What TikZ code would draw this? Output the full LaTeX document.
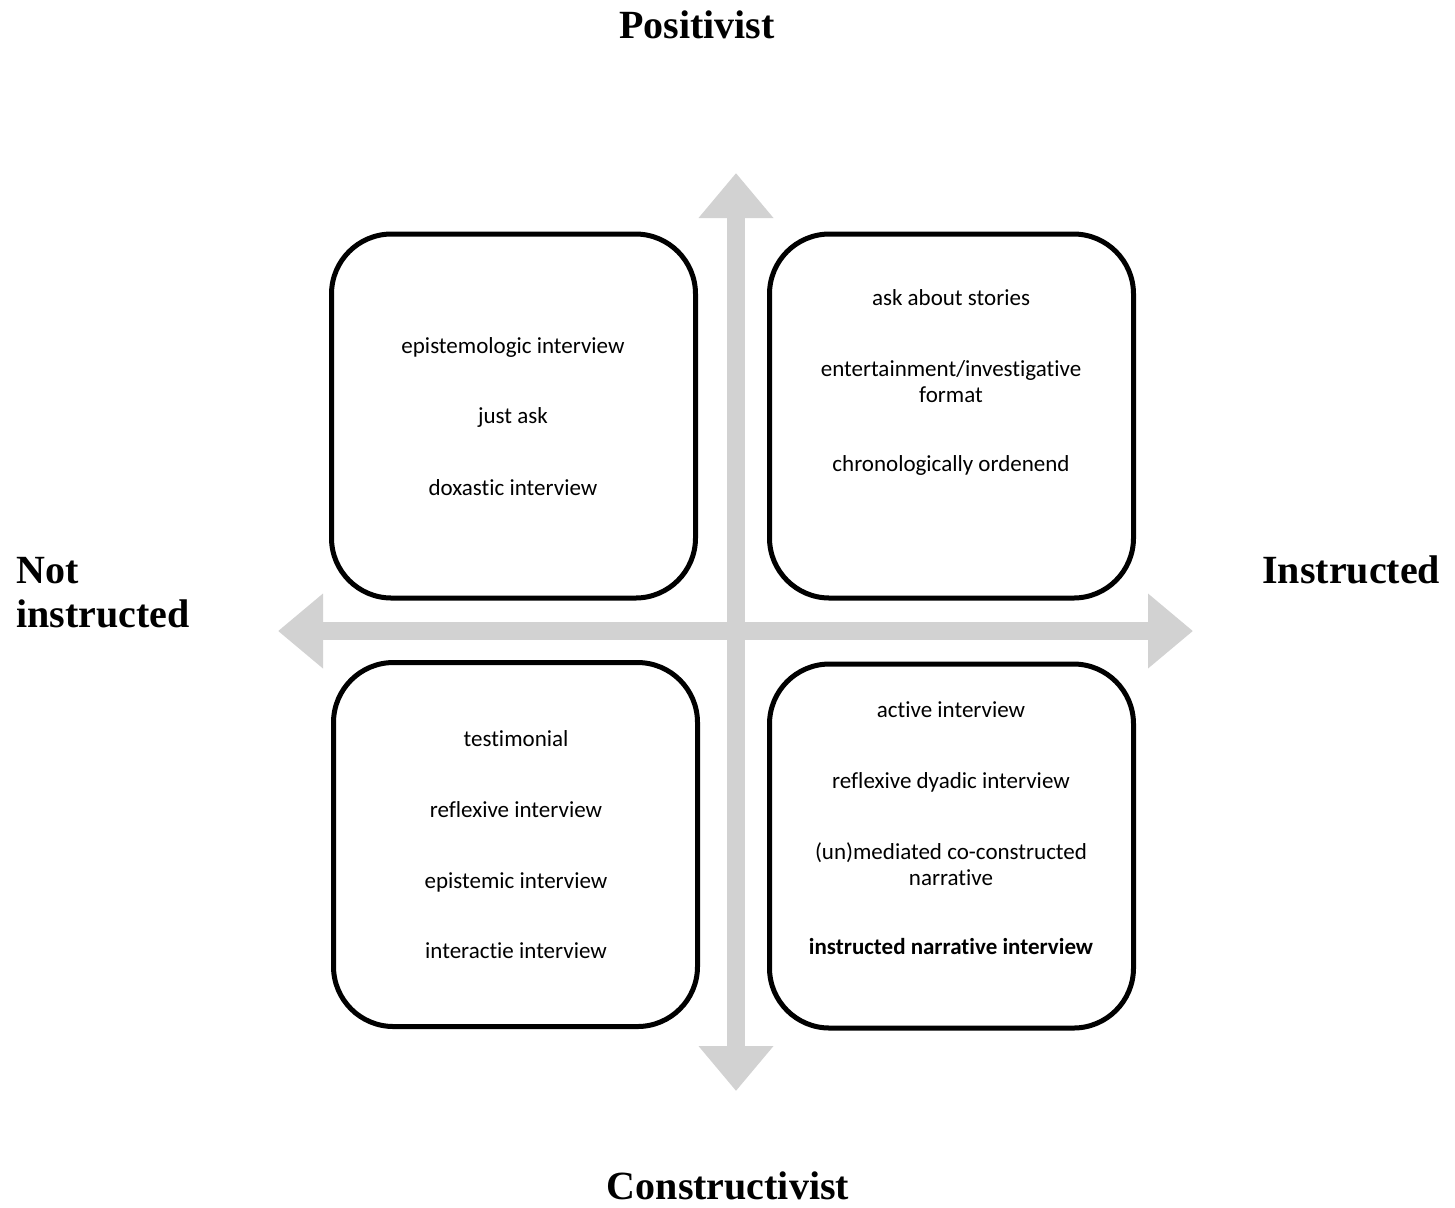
\documentclass[tikz,border=0pt]{standalone}
\usepackage{fontspec}
\setmainfont[Ligatures=NoCommon]{Carlito}
\newfontfamily\titlefont{Liberation Serif}
\usetikzlibrary{arrows.meta}
\definecolor{axisgray}{RGB}{210,210,210}
\tikzset{
  quad/.style={draw=black, line width=2.5pt, rounded corners=30pt, minimum width=182pt, minimum height=182pt, inner sep=0pt},
  item/.style={anchor=mid, inner sep=0pt, align=center, font=\fontsize{11.5pt}{13pt}\selectfont},
  axislabel/.style={inner sep=0pt, font=\titlefont\bfseries\fontsize{20pt}{22pt}\selectfont},
  axis/.style={draw=axisgray, line width=9pt, {Triangle[length=22.5pt,width=36pt,fill=axisgray]}-{Triangle[length=22.5pt,width=36pt,fill=axisgray]}}
}
\begin{document}
\begin{tikzpicture}[x=0.5pt,y=-0.5pt]
\useasboundingbox (0,0) rectangle (1455,1207);
% axes
\coordinate (top) at (736,173);
\coordinate (bottom) at (736,1091);
\coordinate (left) at (278,631);
\coordinate (right) at (1193,631);
\draw[axis] (left) -- (right);
\draw[axis] (top) -- (bottom);
% boxes
\node[quad] (tl) at (513.5,416) {};
\node[quad] (tr) at (951.5,416) {};
\node[quad] (bl) at (515.5,844.5) {};
\node[quad] (br) at (951.5,846) {};
% axis labels
\node[axislabel, anchor=base] (pos) at (697,38) {Positivist};
\node[axislabel, anchor=base] (con) at (728,1199) {Constructivist};
\node[axislabel, anchor=base west] (not1) at (16,583) {Not};
\node[axislabel, anchor=base west] (not2) at (16,627) {instructed};
\node[axislabel, anchor=base west] (ins) at (1262,583) {Instructed};
% top left
\node[item] (a1) at (513,349) {epistemologic interview};
\node[item] (a2) at (513,419) {just ask};
\node[item] (a3) at (513,491) {doxastic interview};
% top right
\node[item] (b1) at (951,301) {ask about stories};
\node[item] (b2) at (951,398) {entertainment/investigative\\format};
\node[item] (b3) at (951,467) {chronologically ordenend};
% bottom left
\node[item] (c1) at (516,742) {testimonial};
\node[item] (c2) at (516,813) {reflexive interview};
\node[item] (c3) at (516,884) {epistemic interview};
\node[item] (c4) at (516,954) {interactie interview};
% bottom right
\node[item] (d1) at (951,713) {active interview};
\node[item] (d2) at (951,784) {reflexive dyadic interview};
\node[item] (d3) at (951,881) {(un)mediated co-constructed\\narrative};
\node[item, font=\bfseries\fontsize{11.5pt}{13pt}\selectfont] (d4) at (951,950) {instructed narrative interview};
\end{tikzpicture}
\end{document}
